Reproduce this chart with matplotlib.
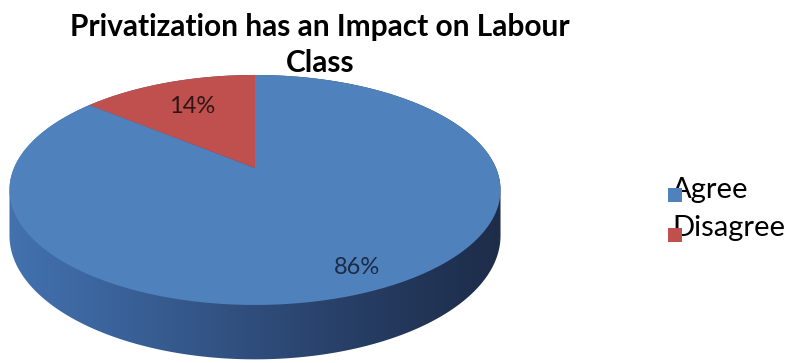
import numpy as np
import matplotlib
matplotlib.use("Agg")
import matplotlib.pyplot as plt
from matplotlib.patches import Polygon, Rectangle
from matplotlib.colors import to_rgb

# ---- data ----
categories = ["Agree", "Disagree"]
shares = [86, 14]                      # percent
slice_colors = ["#4F81BD", "#C0504D"]
label_colors = ["#1C2B45", "#2E1616"]
title_lines = ["Privatization has an Impact on Labour", "Class"]

# ---- 3-D pie geometry (pixel space of the figure) ----
W, H = 787, 363
CX, CY = 255.0, 168.0      # projected pie centre
RX, RY = 241.0, 110.8      # radii of the tilted disc
K = 0.191                  # perspective foreshortening of the far half
DEPTH = 44.0               # thickness of the disc
START = 90.0               # first slice starts at 12 o'clock, runs clockwise


def proj(t_deg, r=1.0, z=0.0):
    t = np.radians(t_deg)
    u = r * np.cos(t)
    v = r * np.sin(t)
    w = 1.0 + K * v
    return CX + RX * u / w, CY - RY * v / w + z * DEPTH / w


fig = plt.figure(figsize=(W / 100, H / 100), dpi=100)
ax = fig.add_axes([0, 0, 1, 1])
ax.set_xlim(0, W)
ax.set_ylim(H, 0)
ax.axis("off")

# slice angles (clockwise from the top)
total = float(sum(shares))
bounds = [START]
for s in shares:
    bounds.append(bounds[-1] - s / total * 360.0)

# outline of the whole disc: front of the bottom rim + back of the top rim
ts = np.degrees(np.arcsin(K))
t1, t2 = 180.0 + ts, 360.0 - ts
front = np.linspace(t1, t2, 200)
back = np.linspace(t2, t1 + 360.0, 300)
bx, by = proj(front, z=1.0)
tx, ty = proj(back)
outline = np.column_stack([np.concatenate([bx, tx]), np.concatenate([by, ty])])
clip = Polygon(outline, closed=True, fc="none", ec="none")
ax.add_patch(clip)

# shaded side wall: horizontal gradient clipped to the disc outline
stops_x = [15, 120, 260, 390, 505]
stops_c = ["#4271AE", "#3A6299", "#2F4C7A", "#24395D", "#1D2C48"]
xs = np.arange(W) + 0.5
rgb = np.array([to_rgb(c) for c in stops_c])
row = np.stack([np.interp(xs, stops_x, rgb[:, i]) for i in range(3)], axis=-1)
grad = np.repeat(row[None, :, :], H, axis=0)
im = ax.imshow(grad, extent=(0, W, H, 0), origin="upper", zorder=1,
               interpolation="bilinear")
im.set_clip_path(clip)
ax.set_xlim(0, W)
ax.set_ylim(H, 0)

# top face slices
for i, (a0, a1) in enumerate(zip(bounds[:-1], bounds[1:])):
    arc = np.linspace(a0, a1, 300)
    px, py = proj(arc)
    pts = np.column_stack([np.concatenate([[CX], px]), np.concatenate([[CY], py])])
    ax.add_patch(Polygon(pts, closed=True, fc=slice_colors[i], ec="none", zorder=2))

# percentage labels
label_r = [0.85, 0.68]
for i, (a0, a1) in enumerate(zip(bounds[:-1], bounds[1:])):
    mid = (a0 + a1) / 2.0
    lx, ly = proj(mid, r=label_r[i])
    ax.text(lx, ly, f"{shares[i]}%", ha="center", va="center",
            fontsize=17, family="Lato", color=label_colors[i], zorder=5)

# title
for j, line in enumerate(title_lines):
    ax.text(320, 36 + j * 36, line, ha="center", va="baseline", fontsize=21.5,
            family="Lato", fontweight="bold", color="black")

# legend
for i, name in enumerate(categories):
    base = 198 + i * 38
    ax.text(672, base, name, ha="left", va="baseline", fontsize=21,
            family="Lato", color="black", zorder=5)
    ax.add_patch(Rectangle((668, base - 10 + i * 2), 14, 14,
                           fc=slice_colors[i], ec="none", zorder=6))

fig.savefig("out.png", dpi=100)
